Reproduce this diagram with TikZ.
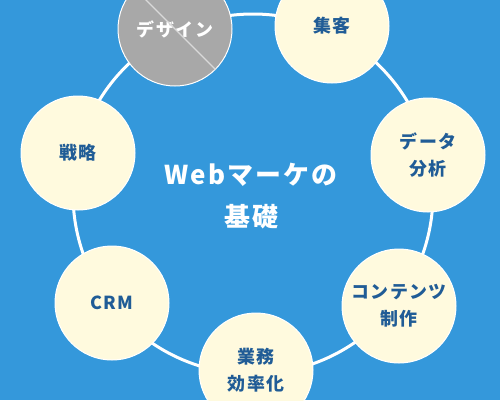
\documentclass[tikz,border=0pt]{standalone}
\usepackage{fontspec}
\setmainfont{Noto Sans CJK JP}
\usepackage{xcolor}

\definecolor{bgblue}{RGB}{52,152,219}
\definecolor{cream}{RGB}{255,250,222}
\definecolor{itemtext}{RGB}{32,92,150}
\definecolor{offgray}{RGB}{168,168,168}

\tikzset{
  item/.style={circle,fill=cream,draw=white,line width=1pt,minimum size=114bp,
    inner sep=0pt,align=center,text=itemtext,
    font=\fontsize{18}{27}\selectfont\bfseries\addfontfeatures{LetterSpace=8}},
  itemoff/.style={item,fill=offgray,text=white},
  ring/.style={draw=white,line width=3bp}
}

\begin{document}
\begin{tikzpicture}[x=1bp,y=-1bp]
\useasboundingbox (0,0) rectangle (500,400);
\fill[bgblue] (0,0) rectangle (500,400);
\coordinate (mid) at (253,194);
\draw[ring] (mid) circle[radius=180bp];
% items round the ring
\node[itemoff] (design) at (175,29) {デザイン};
\draw[gray!30,line width=1.2bp] (design.north west) -- (design.south east);
\node[item] (shukyaku) at (332,26) {集客};
\node[item] (data) at (428,155) {データ\\分析};
\node[item] (contents) at (399,306) {コンテンツ\\制作};
\node[item] (gyomu) at (256,370) {業務\\効率化};
\node[item] (crm) at (112,303) {CRM};
\node[item] (senryaku) at (78,153) {戦略};
% title
\node[text=white,align=center,
  font=\fontsize{26}{43}\selectfont\bfseries\addfontfeatures{LetterSpace=8}] (title) at (251,196) {Webマーケの\\基礎};
\end{tikzpicture}
\end{document}
